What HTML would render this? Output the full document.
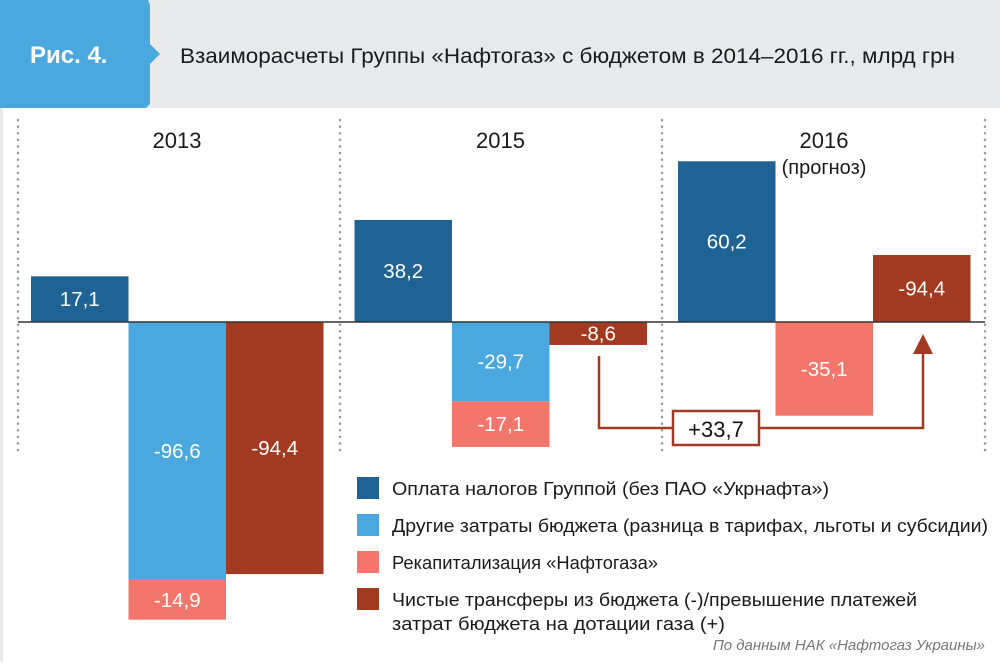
<!DOCTYPE html>
<html><head><meta charset="utf-8"><style>
body{margin:0;width:1000px;height:662px;background:#fff;font-family:"Liberation Sans",sans-serif;overflow:hidden;position:relative}
svg text{font-family:"Liberation Sans",sans-serif}
</style></head><body>
<svg width="1000" height="662">
<rect x="0" y="0" width="1000" height="108" fill="#e8e9eb"/>
<polygon points="0,0 148,0 150,5 150,44 160,54 150,64 150,104 146,108 0,108" fill="#4aa8de"/>
<text x="30" y="63" font-size="24" font-weight="bold" fill="#fff">Рис. 4.</text>
<text x="180" y="63" font-size="21.5" fill="#1a1a1a" textLength="775" lengthAdjust="spacingAndGlyphs">Взаиморасчеты Группы «Нафтогаз» с бюджетом в 2014–2016 гг., млрд грн</text>
<rect x="0" y="108" width="3" height="554" fill="#e8e9eb"/>
<g id="seps"></g>
<g id="bars"></g>
<line x1="18" y1="322" x2="985" y2="322" stroke="#333" stroke-width="1.5"/>
<polyline points="599,356 599,428 923,428 923,352" fill="none" stroke="#a23a22" stroke-width="2.5"/>
<polygon points="923,334 913,354 933,354" fill="#a23a22"/>
<rect x="673" y="411" width="86" height="34" fill="#fff" stroke="#a23a22" stroke-width="2.5"/>
<text x="716" y="437" font-size="22" text-anchor="middle" fill="#111">+33,7</text>
<g>
<rect x="357" y="477" width="22" height="22" fill="#1e6393"/>
<text x="392" y="495" font-size="18" fill="#1a1a1a" textLength="437" lengthAdjust="spacingAndGlyphs">Оплата налогов Группой (без ПАО «Укрнафта»)</text>
<rect x="357" y="514" width="22" height="22" fill="#4aa8de"/>
<text x="392" y="532" font-size="18" fill="#1a1a1a" textLength="596" lengthAdjust="spacingAndGlyphs">Другие затраты бюджета (разница в тарифах, льготы и субсидии)</text>
<rect x="357" y="551" width="22" height="22" fill="#f2766c"/>
<text x="392" y="569" font-size="18" fill="#1a1a1a" textLength="266" lengthAdjust="spacingAndGlyphs">Рекапитализация «Нафтогаза»</text>
<rect x="357" y="588" width="22" height="22" fill="#a23a22"/>
<text x="392" y="606" font-size="18" fill="#1a1a1a" textLength="525" lengthAdjust="spacingAndGlyphs">Чистые трансферы из бюджета (-)/превышение платежей</text>
<text x="392" y="630" font-size="18" fill="#1a1a1a" textLength="333" lengthAdjust="spacingAndGlyphs">затрат бюджета на дотации газа (+)</text>
</g>
<text x="985" y="650" font-size="15" font-style="italic" fill="#777" text-anchor="end">По данным НАК «Нафтогаз Украины»</text>
</svg>
<script>
const years=["2013","2015","2016"];
const taxes=[17.1,38.2,60.2];
const other=[-96.6,-29.7,0];
const recap=[-14.9,-17.1,-35.1];
const net=[-94.4,-8.6,25.1];
const netLabels=["-94,4","-8,6","-94,4"];
const NS="http://www.w3.org/2000/svg";
const base=322,k=2.67;
const y=v=>base-v*k;
const groupX=i=>31+i*323.5;
const bw=97.5;
const bars=document.getElementById('bars'),seps=document.getElementById('seps');
function mk(t,a,p){const e=document.createElementNS(NS,t);for(const q in a)e.setAttribute(q,a[q]);p.appendChild(e);return e;}
const fmt=v=>String(v).replace('.',',');
[18,340,662,985].forEach((x,i)=>{const l=mk('line',{x1:x,y1:120,x2:x,y2:455,stroke:'#999','stroke-width':2.5,'stroke-dasharray':'0.1 6.5','stroke-linecap':'round'},seps);

});
function bar(x,v0,v1,c,label,name){
 const top=Math.min(y(v0),y(v1)),h=Math.abs(y(v1)-y(v0));
 if(h<=0)return;
 const r=mk('rect',{x:x,y:top,width:bw,height:h,fill:c},bars);
 
 
 const t=mk('text',{x:x+bw/2,y:top+h/2+7,'font-size':20.5,'text-anchor':'middle',fill:'#fff'},bars);
 t.textContent=label;
 
 
}
years.forEach((yr,i)=>{
 const gx=groupX(i);
 const t=mk('text',{x:gx+146,y:148,'font-size':22,'text-anchor':'middle',fill:'#1a1a1a'},bars);
 t.textContent=yr;
 
 
 bar(gx,0,taxes[i],'#1e6393',fmt(taxes[i]),'bar-taxes-'+yr);
 bar(gx+bw,0,other[i],'#4aa8de',fmt(other[i]),'bar-other-'+yr);
 bar(gx+bw,other[i],other[i]+recap[i],'#f2766c',fmt(recap[i]),'bar-recap-'+yr);
 bar(gx+2*bw,0,net[i],'#a23a22',netLabels[i],'bar-net-'+yr);
});
const s=mk('text',{x:groupX(2)+146,y:174,'font-size':20,'text-anchor':'middle',fill:'#1a1a1a'},bars);
s.textContent='(прогноз)';


</script>
</body></html>
